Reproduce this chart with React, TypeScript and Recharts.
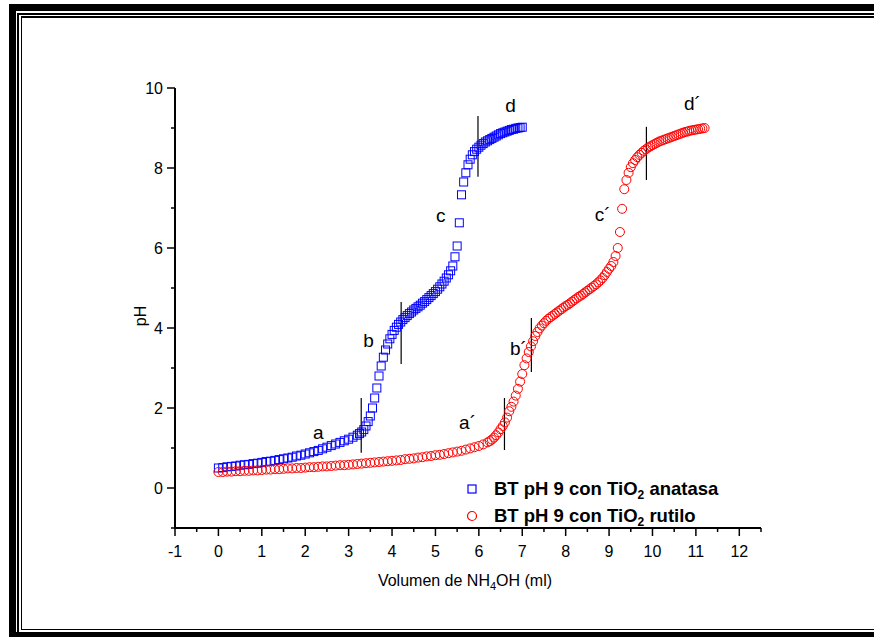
import React from 'react';
import { ScatterChart, Scatter, XAxis, YAxis, ReferenceLine, ReferenceDot, Legend } from 'recharts';

const FONT = '"Liberation Sans", Arial, sans-serif';

// tick values (major = integers on x, even numbers on y)
const xTicks = [-1, -0.5, 0, 0.5, 1, 1.5, 2, 2.5, 3, 3.5, 4, 4.5, 5, 5.5, 6, 6.5, 7, 7.5, 8, 8.5, 9, 9.5, 10, 10.5, 11, 11.5, 12, 12.5];
const yTicks = [-1, 0, 1, 2, 3, 4, 5, 6, 7, 8, 9, 10];

// [ml NH4OH, pH]
const anatasa: [number, number][] = [
  [0.0, 0.5], [0.1, 0.51], [0.2, 0.53], [0.3, 0.54], [0.4, 0.55], [0.5, 0.57], [0.6, 0.58], [0.7, 0.59],
  [0.8, 0.61], [0.9, 0.62], [1.0, 0.64], [1.1, 0.66], [1.2, 0.67], [1.3, 0.69], [1.4, 0.71], [1.5, 0.73],
  [1.6, 0.75], [1.7, 0.77], [1.8, 0.8], [1.9, 0.82], [2.0, 0.85], [2.1, 0.88], [2.2, 0.91], [2.3, 0.94],
  [2.4, 0.98], [2.5, 1.02], [2.6, 1.06], [2.7, 1.1], [2.8, 1.14], [2.9, 1.18], [3.0, 1.22], [3.1, 1.27],
  [3.2, 1.32], [3.25, 1.36], [3.3, 1.4], [3.35, 1.46], [3.4, 1.55], [3.45, 1.66], [3.5, 1.8], [3.55, 2.0],
  [3.6, 2.25], [3.65, 2.5], [3.7, 2.8], [3.75, 3.05], [3.8, 3.27], [3.85, 3.45], [3.9, 3.6], [3.95, 3.73],
  [4.0, 3.84], [4.05, 3.94], [4.1, 4.02], [4.15, 4.09], [4.2, 4.15], [4.25, 4.21], [4.3, 4.26], [4.35, 4.31],
  [4.4, 4.36], [4.45, 4.4], [4.5, 4.45], [4.55, 4.49], [4.6, 4.53], [4.65, 4.57], [4.7, 4.62], [4.75, 4.66],
  [4.8, 4.71], [4.85, 4.76], [4.9, 4.81], [4.95, 4.86], [5.0, 4.91], [5.05, 4.97], [5.1, 5.03], [5.15, 5.1],
  [5.2, 5.17], [5.25, 5.25], [5.3, 5.33], [5.35, 5.43], [5.4, 5.55], [5.45, 5.78], [5.5, 6.05], [5.55, 6.63],
  [5.6, 7.33], [5.65, 7.65], [5.7, 7.88], [5.75, 8.08], [5.8, 8.22], [5.85, 8.33], [5.9, 8.41], [5.95, 8.47],
  [6.0, 8.52], [6.05, 8.57], [6.1, 8.61], [6.15, 8.65], [6.2, 8.68], [6.25, 8.71], [6.3, 8.74], [6.35, 8.77],
  [6.4, 8.8], [6.45, 8.83], [6.5, 8.86], [6.55, 8.88], [6.6, 8.9], [6.65, 8.92], [6.7, 8.94], [6.75, 8.96],
  [6.8, 8.97], [6.85, 8.99], [6.9, 9.0], [6.95, 9.01], [7.0, 9.02],
];

const rutilo: [number, number][] = [
  [0.0, 0.4], [0.1, 0.4], [0.2, 0.41], [0.3, 0.41], [0.4, 0.42], [0.5, 0.42], [0.6, 0.43], [0.7, 0.43],
  [0.8, 0.44], [0.9, 0.44], [1.0, 0.45], [1.1, 0.46], [1.2, 0.46], [1.3, 0.47], [1.4, 0.47], [1.5, 0.48],
  [1.6, 0.49], [1.7, 0.49], [1.8, 0.5], [1.9, 0.5], [2.0, 0.51], [2.1, 0.52], [2.2, 0.52], [2.3, 0.53],
  [2.4, 0.54], [2.5, 0.54], [2.6, 0.55], [2.7, 0.56], [2.8, 0.57], [2.9, 0.57], [3.0, 0.58], [3.1, 0.59],
  [3.2, 0.6], [3.3, 0.61], [3.4, 0.62], [3.5, 0.63], [3.6, 0.64], [3.7, 0.65], [3.8, 0.66], [3.9, 0.67],
  [4.0, 0.68], [4.1, 0.69], [4.2, 0.7], [4.3, 0.72], [4.4, 0.73], [4.5, 0.74], [4.6, 0.76], [4.7, 0.77],
  [4.8, 0.79], [4.9, 0.8], [5.0, 0.82], [5.1, 0.83], [5.2, 0.85], [5.3, 0.87], [5.4, 0.89], [5.5, 0.91],
  [5.6, 0.93], [5.7, 0.96], [5.8, 0.99], [5.9, 1.02], [6.0, 1.05], [6.1, 1.09], [6.2, 1.14], [6.25, 1.17],
  [6.3, 1.21], [6.35, 1.26], [6.4, 1.32], [6.45, 1.39], [6.5, 1.47], [6.55, 1.55], [6.6, 1.64], [6.65, 1.76],
  [6.7, 1.92], [6.75, 2.03], [6.8, 2.16], [6.85, 2.31], [6.9, 2.48], [6.95, 2.66], [7.0, 2.85], [7.05, 3.07],
  [7.1, 3.24], [7.15, 3.4], [7.2, 3.54], [7.25, 3.67], [7.3, 3.8], [7.35, 3.9], [7.4, 3.99], [7.45, 4.06],
  [7.5, 4.12], [7.55, 4.18], [7.6, 4.23], [7.65, 4.27], [7.7, 4.31], [7.75, 4.35], [7.8, 4.39], [7.85, 4.43],
  [7.9, 4.47], [7.95, 4.51], [8.0, 4.55], [8.05, 4.58], [8.1, 4.62], [8.15, 4.66], [8.2, 4.7], [8.25, 4.74],
  [8.3, 4.78], [8.35, 4.81], [8.4, 4.85], [8.45, 4.89], [8.5, 4.93], [8.55, 4.97], [8.6, 5.01], [8.65, 5.05],
  [8.7, 5.09], [8.75, 5.14], [8.8, 5.19], [8.85, 5.25], [8.9, 5.32], [8.95, 5.4], [9.0, 5.48], [9.05, 5.55],
  [9.1, 5.65], [9.15, 5.8], [9.2, 6.0], [9.25, 6.4], [9.3, 6.98], [9.35, 7.47], [9.4, 7.7], [9.45, 7.88],
  [9.5, 8.02], [9.55, 8.12], [9.6, 8.2], [9.65, 8.27], [9.7, 8.33], [9.75, 8.38], [9.8, 8.43], [9.85, 8.47],
  [9.9, 8.51], [9.95, 8.54], [10.0, 8.57], [10.05, 8.6], [10.1, 8.63], [10.15, 8.66], [10.2, 8.68], [10.25, 8.7],
  [10.3, 8.72], [10.35, 8.74], [10.4, 8.76], [10.45, 8.78], [10.5, 8.8], [10.55, 8.82], [10.6, 8.84], [10.65, 8.86],
  [10.7, 8.88], [10.75, 8.9], [10.8, 8.91], [10.85, 8.93], [10.9, 8.94], [10.95, 8.95], [11.0, 8.96], [11.05, 8.97],
  [11.1, 8.98], [11.15, 8.99], [11.2, 9.0],
];

// short vertical marks at the equivalence regions
const markLines = [
  { x: 3.29, y1: 0.88, y2: 2.25 },
  { x: 4.21, y1: 3.1, y2: 4.65 },
  { x: 5.98, y1: 7.78, y2: 9.3 },
  { x: 6.59, y1: 0.95, y2: 2.25 },
  { x: 7.21, y1: 2.9, y2: 4.25 },
  { x: 9.86, y1: 7.7, y2: 9.03 },
];

const pointLabels = [
  { text: 'a', x: 2.3, y: 1.4 },
  { text: 'b', x: 3.46, y: 3.7 },
  { text: 'c', x: 5.12, y: 6.83 },
  { text: 'd', x: 6.73, y: 9.58 },
  { text: 'a´', x: 5.74, y: 1.65 },
  { text: 'b´', x: 6.91, y: 3.5 },
  { text: 'c´', x: 8.85, y: 6.85 },
  { text: 'd´', x: 10.92, y: 9.63 },
];

const anatasaData = anatasa.map(([x, y]) => ({ x, y }));
const rutiloData = rutilo.map(([x, y]) => ({ x, y }));

const Square = (p: any) => (
  <rect x={p.cx - 4} y={p.cy - 4} width={8} height={8} fill="none" stroke="#0000ff" strokeWidth={1} />
);
const Ring = (p: any) => <circle cx={p.cx} cy={p.cy} r={4.5} fill="none" stroke="#ff0000" strokeWidth={1} />;

const XTick = ({ x, y, payload }: any) => {
  const major = Number.isInteger(payload.value);
  return (
    <g>
      <line x1={x} x2={x} y1={y} y2={y + (major ? 8 : 4)} stroke="#000" strokeWidth={1.5} />
      {major && (
        <text x={x} y={y + 29} textAnchor="middle" fontSize={16} fontFamily={FONT} fill="#000">
          {payload.value}
        </text>
      )}
    </g>
  );
};

const YTick = ({ x, y, payload }: any) => {
  const v = payload.value;
  const major = v >= 0 && v % 2 === 0;
  return (
    <g>
      <line x1={x} x2={x - (major ? 8 : 4)} y1={y} y2={y} stroke="#000" strokeWidth={1.5} />
      {major && (
        <text x={x - 12} y={y + 6} textAnchor="end" fontSize={16} fontFamily={FONT} fill="#000">
          {v}
        </text>
      )}
    </g>
  );
};

const legendItems = [
  { name: 'anatasa', color: '#0000ff', shape: 'square' },
  { name: 'rutilo', color: '#ff0000', shape: 'circle' },
];

const LegendBox = () => (
  <div style={{ fontFamily: FONT, fontWeight: 'bold', fontSize: 18.5, color: '#000', lineHeight: '27px' }}>
    {legendItems.map((it) => (
      <div key={it.name} style={{ display: 'flex', alignItems: 'center', whiteSpace: 'nowrap' }}>
        <svg width={12} height={12} style={{ marginRight: 16 }}>
          {it.shape === 'square' ? (
            <rect x={2} y={2} width={8} height={8} fill="none" stroke={it.color} strokeWidth={1.2} />
          ) : (
            <circle cx={6} cy={6} r={4.5} fill="none" stroke={it.color} strokeWidth={1.2} />
          )}
        </svg>
        <span>
          BT pH 9 con TiO<sub style={{ fontSize: 12, verticalAlign: '-4px', lineHeight: 0 }}>2</sub> {it.name}
        </span>
      </div>
    ))}
  </div>
);

const Frame = () => {
  const bar = (s: React.CSSProperties) => <div style={{ position: 'absolute', background: '#000', ...s }} />;
  return (
    <>
      {bar({ left: 9, top: 4, right: 0, height: 7 })}
      {bar({ left: 9, top: 4, width: 7, bottom: 0 })}
      {bar({ left: 9, bottom: 0, right: 0, height: 5 })}
      {bar({ left: 17, top: 13, right: 0, height: 1.5 })}
      {bar({ left: 17, top: 13, width: 1.5, bottom: 4 })}
      {bar({ left: 20.5, top: 16, right: 0, height: 1.5 })}
      {bar({ left: 20.5, top: 16, width: 1.5, bottom: 7 })}
      {bar({ left: 20.5, bottom: 7, right: 0, height: 1.5 })}
    </>
  );
};

export default function App() {
  return (
    <div style={{ position: 'absolute', left: 0, top: 0, width: 874, height: 637, background: '#fff', overflow: 'hidden' }}>
      <Frame />
      <div style={{ position: 'absolute', left: 0, top: 0 }}>
        <ScatterChart width={874} height={637} margin={{ top: 88, right: 113, bottom: 79, left: 135 }}>
          <XAxis
            type="number"
            dataKey="x"
            domain={[-1, 12.5]}
            ticks={xTicks}
            interval={0}
            tickSize={0}
            tickMargin={0}
            tickLine={false}
            tick={<XTick />}
            height={30}
            axisLine={{ stroke: '#000', strokeWidth: 2 }}
            label={() => (
              <text x={465} y={586} textAnchor="middle" fontSize={16} fontFamily={FONT} fill="#000">
                <tspan>Volumen de NH</tspan>
                <tspan dy={4} fontSize={11}>4</tspan>
                <tspan dy={-4}>OH (ml)</tspan>
              </text>
            )}
          />
          <YAxis
            type="number"
            dataKey="y"
            domain={[-1, 10]}
            ticks={yTicks}
            interval={0}
            tickSize={0}
            tickMargin={0}
            tickLine={false}
            tick={<YTick />}
            width={40}
            axisLine={{ stroke: '#000', strokeWidth: 2 }}
            label={() => (
              <text x={146} y={316} transform="rotate(-90 146 316)" textAnchor="middle" fontSize={16} fontFamily={FONT} fill="#000">
                pH
              </text>
            )}
          />
          <Legend
            layout="horizontal"
            verticalAlign="middle"
            align="center"
            content={<LegendBox />}
            wrapperStyle={{ left: 466, top: 475, width: 320, height: 60 }}
          />
          <Scatter name="anatasa" data={anatasaData} shape={Square} isAnimationActive={false} />
          <Scatter name="rutilo" data={rutiloData} shape={Ring} isAnimationActive={false} />
          {markLines.map((m, i) => (
            <ReferenceLine
              key={i}
              segment={[{ x: m.x, y: m.y1 }, { x: m.x, y: m.y2 }]}
              stroke="#000"
              strokeWidth={1.2}
            />
          ))}
          {pointLabels.map((l) => (
            <ReferenceDot
              key={l.text}
              x={l.x}
              y={l.y}
              r={0}
              fill="none"
              stroke="none"
              label={{ value: l.text, position: 'center', fontSize: 19, fontFamily: FONT, fill: '#000' }}
            />
          ))}
        </ScatterChart>
      </div>
    </div>
  );
}
